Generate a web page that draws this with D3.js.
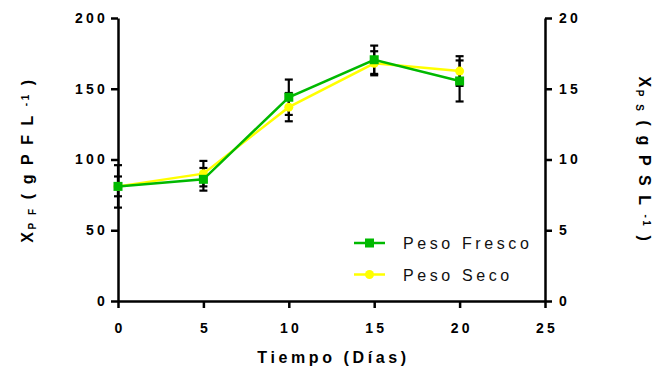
<!DOCTYPE html>
<html>
<head>
<meta charset="utf-8">
<script src="https://cdn.jsdelivr.net/npm/d3@7"></script>
<style>
  body { margin: 0; background: #fff; }
  text { font-family: "Liberation Sans", Arial, sans-serif; }
</style>
</head>
<body>
<div id="chart"></div>
<script>
// data
const dias = [0, 5, 10, 15, 20];
const pesoFresco = [81, 86, 144, 170.5, 155.5];      // g PF / L (left axis)
const errFresco = [15, 8, 12.5, 10, 14.5];
const pesoSeco = [8.1, 9.0, 13.7, 16.8, 16.25];      // g PS / L (right axis)
const errSeco = [0.7, 0.9, 1.0, 0.85, 1.05];
const xTicks = [0, 5, 10, 15, 20, 25];
const yTicksPF = [0, 50, 100, 150, 200];
const yTicksPS = [0, 5, 10, 15, 20];
const seriesNames = ['Peso Fresco', 'Peso Seco'];

const W = 657, H = 366;
const green = '#00b900', yellow = '#ffff00';

const svg = d3.select('#chart').append('svg')
  .attr('width', W).attr('height', H);

const x = d3.scaleLinear().domain([0, 25]).range([118, 545]);
const yL = d3.scaleLinear().domain([0, 200]).range([301, 18]);
const yR = d3.scaleLinear().domain([0, 20]).range([301, 18]);

const tickFont = g => g.selectAll('text')
  .attr('fill', '#000')
  .style('font-size', '14px')
  .style('font-weight', 'bold')
  .style('letter-spacing', '3.2px');

const axisStyle = g => {
  g.select('.domain').attr('stroke-width', 2.5);
  g.selectAll('.tick line').attr('stroke-width', 2.5);
};

// x axis
svg.append('g')
  .attr('transform', `translate(0,${yL(0)})`)
  .call(d3.axisBottom(x).tickValues(xTicks).tickSize(7).tickSizeOuter(0).tickPadding(15))
  .call(axisStyle)
  .call(tickFont)
  .call(g => g.selectAll('text').attr('dx', '1.6px'));

// left axis
svg.append('g')
  .attr('transform', `translate(${x(0)},0)`)
  .call(d3.axisLeft(yL).tickValues(yTicksPF).tickSize(7).tickSizeOuter(0).tickPadding(3))
  .call(axisStyle)
  .call(tickFont);

// right axis
svg.append('g')
  .attr('transform', `translate(${x(25)},0)`)
  .call(d3.axisRight(yR).tickValues(yTicksPS).tickSize(7).tickSizeOuter(0).tickPadding(7))
  .call(axisStyle)
  .call(tickFont);

// error bars (drawn under the lines)
function errorBars(vals, errs, y) {
  const g = svg.append('g').attr('stroke', '#000').attr('stroke-width', 2.2);
  dias.forEach((d, i) => {
    const cx = x(d), top = y(vals[i] + errs[i]), bot = y(vals[i] - errs[i]);
    g.append('line').attr('x1', cx).attr('x2', cx).attr('y1', top).attr('y2', bot);
    g.append('line').attr('x1', cx - 4).attr('x2', cx + 4).attr('y1', top).attr('y2', top);
    g.append('line').attr('x1', cx - 4).attr('x2', cx + 4).attr('y1', bot).attr('y2', bot);
  });
}
errorBars(pesoSeco, errSeco, yR);
errorBars(pesoFresco, errFresco, yL);

// Peso Seco (yellow, right axis)
const lineSeco = d3.line().x((d, i) => x(dias[i])).y(d => yR(d));
svg.append('path').datum(pesoSeco)
  .attr('d', lineSeco).attr('fill', 'none')
  .attr('stroke', yellow).attr('stroke-width', 2.5);
svg.selectAll('.pt-seco').data(pesoSeco).join('circle')
  .attr('class', 'pt-seco')
  .attr('cx', (d, i) => x(dias[i])).attr('cy', d => yR(d))
  .attr('r', 4.5).attr('fill', yellow);

// Peso Fresco (green, left axis)
const lineFresco = d3.line().x((d, i) => x(dias[i])).y(d => yL(d));
svg.append('path').datum(pesoFresco)
  .attr('d', lineFresco).attr('fill', 'none')
  .attr('stroke', green).attr('stroke-width', 2.5);
svg.selectAll('.pt-fresco').data(pesoFresco).join('rect')
  .attr('class', 'pt-fresco')
  .attr('x', (d, i) => x(dias[i]) - 4.5).attr('y', d => yL(d) - 4.5)
  .attr('width', 9).attr('height', 9).attr('fill', green);

// legend
const legend = svg.append('g').attr('transform', 'translate(354,243)');
seriesNames.forEach((name, i) => {
  const row = legend.append('g').attr('transform', `translate(0,${i * 31.5})`);
  const col = i === 0 ? green : yellow;
  row.append('line').attr('x1', 0).attr('x2', 31).attr('y1', 0).attr('y2', 0)
    .attr('stroke', col).attr('stroke-width', 2.5);
  if (i === 0) {
    row.append('rect').attr('x', 11).attr('y', -4.5).attr('width', 9).attr('height', 9).attr('fill', col);
  } else {
    row.append('circle').attr('cx', 15.5).attr('cy', 0).attr('r', 4.5).attr('fill', col);
  }
  row.append('text').attr('x', 49).attr('y', 6)
    .style('font-size', '16px').style('letter-spacing', '3.6px')
    .attr('fill', '#111').text(name);
});

// x axis title
svg.append('text')
  .attr('x', (x(0) + x(25)) / 2 + 2).attr('y', 363)
  .attr('text-anchor', 'middle')
  .style('font-size', '16px').style('font-weight', 'bold').style('letter-spacing', '3.6px')
  .text('Tiempo (Días)');

// y axis titles with sub/superscripts
function yTitle(tx, ty, rot, sub, unit) {
  const t = svg.append('text')
    .attr('transform', `translate(${tx},${ty}) rotate(${rot})`)
    .attr('text-anchor', 'middle')
    .style('font-size', '16px').style('font-weight', 'bold').style('letter-spacing', '2.6px');
  t.append('tspan').text('X');
  t.append('tspan').attr('baseline-shift', '-25%').style('font-size', '10px').text(sub);
  t.append('tspan').text(` ( g ${unit} L `);
  t.append('tspan').attr('baseline-shift', '45%').style('font-size', '10px').text('-1');
  t.append('tspan').text(' )');
}
yTitle(33, 160, -90, 'P F', 'P F');
yTitle(639, 160, 90, 'P S', 'P S');
</script>
</body>
</html>
